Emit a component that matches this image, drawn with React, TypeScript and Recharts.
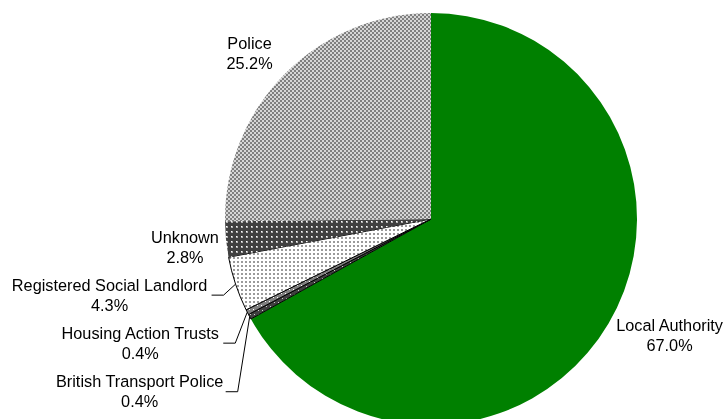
import React from "react";
import { PieChart, Pie, Cell } from "recharts";

if (typeof document !== "undefined") {
  document.body.style.margin = "0";
  document.documentElement.style.overflow = "hidden";
  document.body.style.overflow = "hidden";
}

const categories = [
  "Local Authority",
  "British Transport Police",
  "Housing Action Trusts",
  "Registered Social Landlord",
  "Unknown",
  "Police",
];
const shares = [67.0, 0.4, 0.4, 4.3, 2.8, 25.2];
const shareLabels = ["67.0%", "0.4%", "0.4%", "4.3%", "2.8%", "25.2%"];

const data = categories.map((name, i) => ({ name, value: shares[i], label: shareLabels[i] }));

const fills = [
  "#008000",
  "url(#pat-btp)",
  "url(#pat-hat)",
  "url(#pat-rsl)",
  "url(#pat-unknown)",
  "url(#pat-police)",
];
const strokes = ["none", "#000", "#000", "#000", "none", "none"];

// label offsets relative to the arc point at each slice's mid angle
const labelOffsets: Record<string, { dx: number; dy: number; leader: boolean }> = {
  "Local Authority": { dx: 61, dy: 2, leader: false },
  "British Transport Police": { dx: -110, dy: 65, leader: true },
  "Housing Action Trusts": { dx: -107, dy: 21, leader: true },
  "Registered Social Landlord": { dx: -126, dy: 1, leader: true },
  Unknown: { dx: -41, dy: -2, leader: false },
  Police: { dx: -35, dy: -31, leader: false },
};

const RAD = Math.PI / 180;

const renderLabel = (props: any) => {
  const { cx, cy, midAngle, outerRadius, index } = props;
  const name = categories[index];
  const off = labelOffsets[name];
  const ax = cx + outerRadius * Math.cos(-midAngle * RAD);
  const ay = cy + outerRadius * Math.sin(-midAngle * RAD);
  const tx = ax + off.dx;
  const ty = ay + off.dy;
  const ly = ty + 10;
  return (
    <g>
      {off.leader && (
        <polyline
          points={`${ax - 24},${ly} ${ax - 12},${ly} ${ax},${ay}`}
          fill="none"
          stroke="#000"
          strokeWidth={1}
        />
      )}
      <text
        x={tx}
        y={ty + 5.5}
        textAnchor="middle"
        fontFamily="'Liberation Sans', Arial, sans-serif"
        fontSize={16.3}
        fill="#000"
      >
        {name}
      </text>
      <text
        x={tx}
        y={ty + 25.5}
        textAnchor="middle"
        fontFamily="'Liberation Sans', Arial, sans-serif"
        fontSize={16.3}
        fill="#000"
      >
        {shareLabels[index]}
      </text>
    </g>
  );
};

export default function App() {
  return (
    <div style={{ position: "fixed", left: 0, top: 0, width: 726, height: 419 }}>
      <svg width={0} height={0} style={{ position: "absolute" }}>
        <defs>
          <pattern id="pat-police" patternUnits="userSpaceOnUse" width={4} height={4}>
            <rect width={4} height={4} fill="#d6d6d6" />
            <rect x={0} y={0} width={2} height={2} fill="#7f7f7f" />
            <rect x={2} y={2} width={2} height={2} fill="#7f7f7f" />
          </pattern>
          <pattern id="pat-unknown" patternUnits="userSpaceOnUse" width={5} height={5}>
            <rect width={5} height={5} fill="#404040" />
            <rect x={1} y={1} width={2} height={2} fill="#b0b0b0" />
            <rect x={1} y={1} width={1} height={1} fill="#ffffff" />
          </pattern>
          <pattern id="pat-rsl" patternUnits="userSpaceOnUse" width={4} height={4}>
            <rect width={4} height={4} fill="#ffffff" />
            <rect x={1} y={1} width={2} height={2} fill="#9a9a9a" />
          </pattern>
          <pattern id="pat-hat" patternUnits="userSpaceOnUse" width={4} height={4}>
            <rect width={4} height={4} fill="#808080" />
            <rect x={1} y={1} width={1} height={1} fill="#ffffff" />
          </pattern>
          <pattern id="pat-btp" patternUnits="userSpaceOnUse" width={4} height={4}>
            <rect width={4} height={4} fill="#404040" />
            <rect x={2} y={2} width={1} height={1} fill="#cccccc" />
          </pattern>
        </defs>
      </svg>
      <PieChart width={726} height={419} margin={{ top: 0, right: 0, bottom: 0, left: 0 }}>
        <Pie
          data={data}
          dataKey="value"
          nameKey="name"
          cx={431}
          cy={219}
          outerRadius={206}
          startAngle={90}
          endAngle={-270}
          label={renderLabel}
          labelLine={false}
          isAnimationActive={false}
        >
          {data.map((d, i) => (
            <Cell key={d.name} fill={fills[i]} stroke={strokes[i]} strokeWidth={1} />
          ))}
        </Pie>
      </PieChart>
    </div>
  );
}
